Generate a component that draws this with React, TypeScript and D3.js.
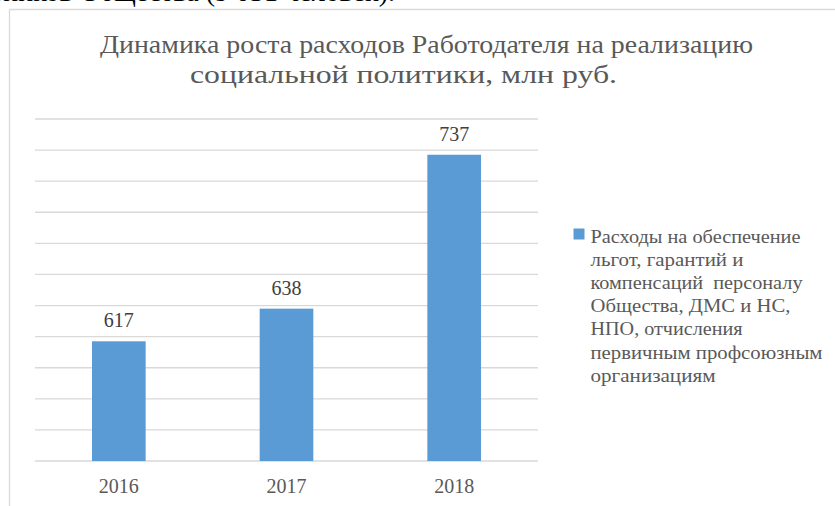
import React from "react";
import * as d3 from "d3";

const categories = ["2016", "2017", "2018"];
const values = [617, 638, 737];
const yTicks = [540, 560, 580, 600, 620, 640, 660, 680, 700, 720, 740, 760];
const titleLines = [
  "Динамика роста расходов Работодателя на реализацию",
  "социальной политики, млн руб.",
];
const legendLines = [
  "Расходы на обеспечение",
  "льгот, гарантий и",
  "компенсаций  персоналу",
  "Общества, ДМС и НС,",
  "НПО, отчисления",
  "первичным профсоюзным",
  "организациям",
];

// layout (widths of the stretched text lines as they appear in the picture)
const titleLayout = [
  { x: 100, y: 53, w: 653 },
  { x: 190, y: 83, w: 427 },
];
const legendWidths = [210, 153, 212, 200, 152, 232, 125];

const W = 835;
const H = 506;
const FONT = "'Liberation Serif'";
const GREY = "#595959";
const GRID = "#d9d9d9";
const BAR = "#5b9bd5";

const App: React.FC = () => {
  const plot = { left: 35, right: 538, top: 119, bottom: 461 };

  const x = d3
    .scaleBand()
    .domain(categories)
    .range([plot.left, plot.right])
    .paddingInner(0.68)
    .paddingOuter(0.34);

  const y = d3
    .scaleLinear()
    .domain([540, 760])
    .range([plot.bottom, plot.top]);

  return (
    <svg
      width={W}
      height={H}
      style={{ position: "absolute", left: 0, top: 0, display: "block" }}
    >
      <rect width={W} height={H} fill="#fff" />

      {/* line of the document text above the chart, cut by the crop */}
      <text
        x={395}
        y={1}
        textAnchor="end"
        fontFamily={FONT}
        fontSize={28}
        fill="#000"
      >
        работников Общества (9 031 человек).
      </text>

      {/* chart frame */}
      <line x1={9.5} y1={9.5} x2={W} y2={9.5} stroke={GRID} strokeWidth={1.3} />
      <line x1={9.5} y1={9.5} x2={9.5} y2={H} stroke={GRID} strokeWidth={1.3} />

      {/* title */}
      {titleLines.map((t, i) => (
        <text
          key={i}
          x={titleLayout[i].x}
          y={titleLayout[i].y}
          textLength={titleLayout[i].w}
          lengthAdjust="spacingAndGlyphs"
          fontFamily={FONT}
          fontSize={26}
          fill={GREY}
        >
          {t}
        </text>
      ))}

      {/* gridlines */}
      {yTicks.map((t) => (
        <line
          key={t}
          x1={plot.left}
          x2={plot.right}
          y1={y(t)}
          y2={y(t)}
          stroke={GRID}
          strokeWidth={1.3}
        />
      ))}

      {/* bars */}
      {categories.map((c, i) => (
        <rect
          key={c}
          x={x(c)}
          y={y(values[i])}
          width={x.bandwidth()}
          height={plot.bottom - y(values[i])}
          fill={BAR}
        />
      ))}

      {/* value labels */}
      {categories.map((c, i) => (
        <text
          key={c}
          x={(x(c) || 0) + x.bandwidth() / 2}
          y={y(values[i]) - 14}
          textAnchor="middle"
          fontFamily={FONT}
          fontSize={20}
          fill="#404040"
        >
          {values[i]}
        </text>
      ))}

      {/* category labels */}
      {categories.map((c) => (
        <text
          key={c}
          x={(x(c) || 0) + x.bandwidth() / 2}
          y={493}
          textAnchor="middle"
          fontFamily={FONT}
          fontSize={20}
          fill={GREY}
        >
          {c}
        </text>
      ))}

      {/* legend */}
      <rect x={573.5} y={228.5} width={11} height={11} fill={BAR} />
      {legendLines.map((l, i) => (
        <text
          key={i}
          x={590.5}
          y={242.5 + i * 23.2}
          textLength={legendWidths[i]}
          lengthAdjust="spacingAndGlyphs"
          fontFamily={FONT}
          fontSize={18}
          fill={GREY}
          style={{ whiteSpace: "pre" }}
        >
          {l}
        </text>
      ))}
    </svg>
  );
};

export default App;
